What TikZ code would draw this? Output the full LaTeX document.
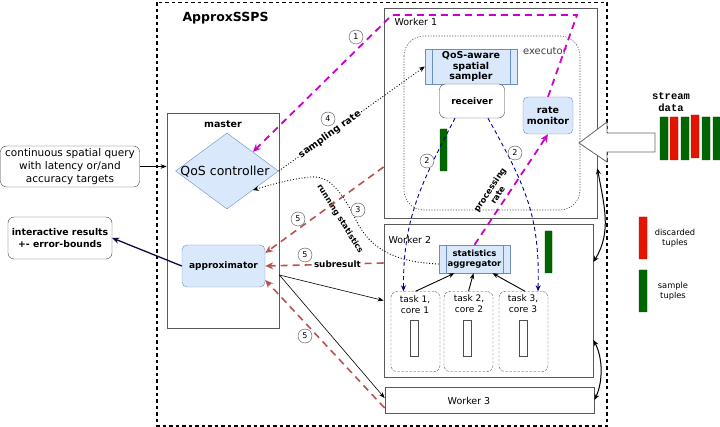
\documentclass[tikz,border=0pt]{standalone}
\usepackage{fontspec}
\setmainfont{DejaVu Sans}
\newfontfamily\streamfont{Liberation Mono}
\usetikzlibrary{shapes.geometric,arrows.meta,calc}

\definecolor{bluefill}{HTML}{DAE8FC}
\definecolor{blueline}{HTML}{6C8EBF}
\definecolor{redline}{HTML}{B85450}
\definecolor{magline}{HTML}{CC00CC}
\definecolor{navyline}{HTML}{000099}
\definecolor{darknavy}{HTML}{0A0A40}
\definecolor{tuplegreen}{HTML}{006600}
\definecolor{tuplered}{HTML}{E51400}

\tikzset{
  plainbox/.style={draw=black!75, fill=white, rounded corners=6pt, align=center, inner sep=1pt},
  bluebox/.style={draw=blueline, fill=bluefill, rounded corners=5pt, align=center, inner sep=1pt},
  procbox/.style={draw=blueline, fill=bluefill, align=center, inner sep=1pt,
    path picture={
      \draw[blueline] ([xshift=7pt]path picture bounding box.north west) -- ([xshift=7pt]path picture bounding box.south west);
      \draw[blueline] ([xshift=-7pt]path picture bounding box.north east) -- ([xshift=-7pt]path picture bounding box.south east);
    }},
  workerbox/.style={draw=black!65, line width=0.8pt, inner sep=0pt},
  taskbox/.style={draw=black!70, dash pattern=on 2.5pt off 1.5pt, rounded corners=6pt, inner sep=0pt},
  corebox/.style={draw=black!70, fill=white, inner sep=0pt, minimum width=8pt, minimum height=36pt},
  num/.style={circle, draw=black!70, fill=white, inner sep=0pt, minimum size=14pt, font=\fontsize{8}{8}\selectfont},
  magarrow/.style={draw=magline, line width=1.8pt, dash pattern=on 7pt off 5pt, -{Stealth[length=8pt,width=7pt]}},
  redarrow/.style={draw=redline, line width=1.6pt, dash pattern=on 7pt off 5pt, -{Stealth[length=8pt,width=7pt]}},
  bluearrow/.style={draw=navyline, line width=0.9pt, dash pattern=on 4pt off 3pt, -{Stealth[length=6pt,width=5pt]}},
  dotarrow/.style={draw=black, line width=0.9pt, dotted, -{Stealth[length=6pt,width=5pt]}},
  thinarrow/.style={draw=black, line width=0.6pt, -{Stealth[length=6pt,width=4.5pt]}},
  dblarrow/.style={draw=black, line width=1pt, {Stealth[length=6pt,width=5pt]}-{Stealth[length=6pt,width=5pt]}},
  tuple/.style={draw=#1!70!black, fill=#1, rounded corners=0.5pt},
}

\begin{document}
\begin{tikzpicture}[x=1pt, y=-1pt]
\useasboundingbox (0,0) rectangle (720,427);

% outer frame
\draw[line width=1.2pt, dash pattern=on 3.5pt off 3pt] (157,2.5) rectangle (607,426);
\node[anchor=west, font=\fontsize{12.5}{14}\selectfont\bfseries] (title) at (179,18) {ApproxSSPS};

% left boxes
\node[plainbox, minimum width=139pt, minimum height=41pt, font=\fontsize{10.5}{13}\selectfont] (query) at (70,166.5)
  {continuous spatial query\\with latency or/and\\accuracy targets};
\node[plainbox, minimum width=104pt, minimum height=42pt, font=\fontsize{9.3}{12.5}\selectfont\bfseries] (results) at (60,238)
  {interactive results\\+- error-bounds};

% master
\node[workerbox, minimum width=112pt, minimum height=215pt] (master) at (223,220.5) {};
\node[font=\fontsize{9.5}{10}\selectfont\bfseries] (masterlbl) at (223,124) {master};
\node[diamond, draw=blueline, fill=bluefill, minimum width=103pt, minimum height=76pt, inner sep=0pt] (qos) at (227,171) {};
\node[font=\fontsize{12.5}{14}\selectfont] (qoslbl) at (225,172) {QoS controller};
\node[bluebox, minimum width=83pt, minimum height=42pt, font=\fontsize{9}{10}\selectfont\bfseries] (approx) at (223.5,266) {approximator};

% worker 1
\node[workerbox, minimum width=213pt, minimum height=210pt] (w1) at (490.5,113) {};
\node[anchor=west, font=\fontsize{9.5}{10}\selectfont] (w1lbl) at (391,22) {Worker 1};
\draw[black!70, line width=0.6pt, dash pattern=on 1.2pt off 1.5pt, rounded corners=20pt] (404,36) rectangle (580,210);
\node[font=\fontsize{10}{12}\selectfont, text=black!75] (execlbl) at (545,51) {executor};
\node[procbox, minimum width=92pt, minimum height=35pt, font=\fontsize{9.5}{10.8}\selectfont\bfseries] (samp) at (471,66.5)
  {QoS-aware\\spatial\\sampler};
\node[plainbox, minimum width=65pt, minimum height=34pt, font=\fontsize{9}{10}\selectfont\bfseries] (recv) at (472,101) {receiver};
\node[bluebox, minimum width=50pt, minimum height=37pt, font=\fontsize{9.5}{11.5}\selectfont\bfseries] (ratemon) at (548,115.5) {rate\\monitor};
\draw[tuple=tuplegreen] (440,129) rectangle (447,171);

% worker 2
\node[workerbox, minimum width=209pt, minimum height=153pt] (w2) at (488.5,300.5) {};
\node[anchor=west, font=\fontsize{9.5}{10}\selectfont] (w2lbl) at (385,240) {Worker 2};
\node[procbox, minimum width=71pt, minimum height=28pt, font=\fontsize{8.5}{10}\selectfont\bfseries] (agg) at (474.5,259)
  {statistics\\aggregator};
\draw[tuple=tuplegreen] (545,231) rectangle (552,273);
\node[taskbox, minimum width=49pt, minimum height=80pt] (t1) at (415.5,331.5) {};
\node[taskbox, minimum width=49pt, minimum height=80pt] (t2) at (468.5,331.5) {};
\node[taskbox, minimum width=49pt, minimum height=80pt] (t3) at (523.5,331.5) {};
\node[anchor=north, align=center, font=\fontsize{9}{11}\selectfont] (t1lbl) at (415,292) {task 1,\\core 1};
\node[anchor=north, align=center, font=\fontsize{9}{11}\selectfont] (t2lbl) at (469,291) {task 2,\\core 2};
\node[anchor=north, align=center, font=\fontsize{9}{11}\selectfont] (t3lbl) at (523,291) {task 3,\\core 3};
\node[corebox] (c1) at (414,338) {};
\node[corebox] (c2) at (467,338) {};
\node[corebox] (c3) at (523,338) {};
\draw[thinarrow, line width=0.9pt] (t1.north) -- ([xshift=-20pt]agg.south);
\draw[thinarrow, line width=0.9pt] (t2.north) -- ([xshift=-1pt]agg.south);
\draw[thinarrow, line width=0.9pt] ([xshift=1.5pt]t3.north) -- ([xshift=18pt]agg.south);

% worker 3
\node[workerbox, minimum width=209pt, minimum height=26pt] (w3) at (489.5,400) {};
\node[font=\fontsize{9.5}{10}\selectfont] (w3lbl) at (469,401) {Worker 3};

% connectors
\draw[thinarrow] (query.east) -- (query.east -| master.west);
\draw[draw=darknavy, line width=1.3pt, -{Stealth[length=7pt,width=6pt]}] (approx.west) -- (results.east);

\coordinate (mtopa) at (577,15);
\coordinate (mtopb) at (392,15);
\draw[magarrow] (ratemon.north) -- (mtopa) -- (mtopb) -- (qos.north east);
\node[num] (n1) at (356,37) {1};

\draw[bluearrow] ([xshift=-17pt]recv.south) .. controls (420,185) and (403,220) .. ([xshift=-12pt]t1.north);
\draw[bluearrow] ([xshift=16pt]recv.south) .. controls (525,185) and (540,215) .. ([xshift=14.5pt]t3.north);
\node[num] (n2a) at (427,161) {2};
\node[num] (n2b) at (515,153) {2};

\draw[magarrow] (agg.north) -- node[pos=0.41, sloped, above=1pt, align=center, font=\fontsize{8.3}{9.5}\selectfont\bfseries] (proclbl) {processing\\rate} (ratemon.south);

\draw[dotarrow] (qos.east) -- node[pos=0.35, sloped, fill=white, inner sep=1pt, font=\fontsize{9.5}{10}\selectfont\bfseries] (samplbl) {sampling rate} (samp.west);
\node[num] (n4) at (328,119) {4};

\draw[dotarrow] ([yshift=-5pt]agg.west) .. controls (392,262) and (370,247) .. (357,222)
  .. controls (342,192) and (330,175) .. (310,177) .. controls (290,179) and (270,185) .. (qos.south east);
\node[rotate=-58, font=\fontsize{8}{9}\selectfont\bfseries] (runlbl) at (340,219) {running statistics};
\node[num] (n3) at (358,210) {3};

\draw[redarrow] ([yshift=-54pt]w1.west) -- ([yshift=13pt]approx.east);
\draw[redarrow] ([yshift=37.5pt]w2.west) -- node[pos=0.39, fill=white, inner sep=1pt, font=\fontsize{8.8}{10}\selectfont\bfseries] (sublbl) {subresult} (approx.east);
\draw[redarrow] ([yshift=-8pt]w3.west) -- ([yshift=-14pt]approx.east);
\node[num] (n5a) at (298,219) {5};
\node[num] (n5b) at (305,255) {5};
\node[num] (n5c) at (305,336) {5};

\draw[thinarrow] ([yshift=-54.5pt]master.east) -- (w2.west);
\draw[thinarrow] ([yshift=-54.5pt]master.east) -- ([yshift=2pt]w3.west);

\draw[dblarrow] ([yshift=50pt]w1.south east) .. controls (604,205) and (612,232) .. ([yshift=38.5pt]w2.east);
\draw[dblarrow] ([yshift=-39.5pt]w2.east) .. controls (603,358) and (603,382) .. (w3.east);

% stream input
\draw[draw=black!60, fill=white, line width=0.8pt] (655,133) -- (607,133) -- (607,122) -- (579,143) -- (607,162) -- (607,152) -- (655,152) -- cycle;
\node[align=center, font=\streamfont\fontsize{10.5}{12}\selectfont\bfseries] (streamlbl) at (671,102) {stream\\data};
\foreach \x/\c/\t in {660/tuplegreen/117, 670/tuplered/117, 681/tuplegreen/117, 691/tuplered/115, 702/tuplegreen/117, 713/tuplegreen/117}
  \draw[tuple=\c] (\x,\t) rectangle ++(8,43);

% legend
\draw[tuple=tuplered] (639,217) rectangle (647,259);
\node[align=center, font=\fontsize{8.3}{10.5}\selectfont] (disclbl) at (675,238) {discarded\\tuples};
\draw[tuple=tuplegreen] (639,270) rectangle (647,312);
\node[align=center, font=\fontsize{8.3}{10.5}\selectfont] (samplelbl) at (673,291) {sample\\tuples};
\end{tikzpicture}
\end{document}
